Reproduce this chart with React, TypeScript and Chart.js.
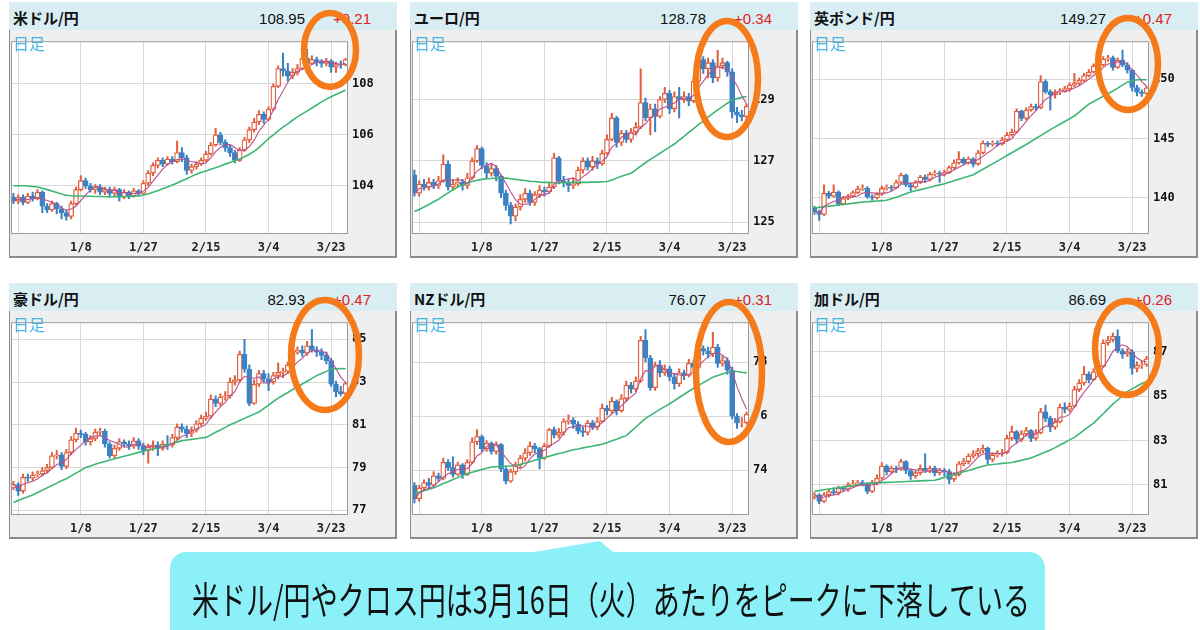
import React, { useEffect, useLayoutEffect, useRef, useState } from "react";
import { Chart, registerables } from "chart.js";

Chart.register(...registerables);

const RED = "#e2603e";
const BLUE = "#3b82c4";
const PINK = "#b9508e";
const GREEN = "#3db673";
const GRID = "#d9d9d9";
const CYAN = "#8cf0f9";
const ORANGE = "#f57a1a";

// x-axis ticks (bar index -> label)
const tickIdx = [1, 14, 27, 40, 53, 66];
const tickText = ["", "1/8", "1/27", "2/15", "3/4", "3/23"];

// ---------- 米ドル/円 ----------
const usdOpen0 = 103.55;
const usdClose = [103.40,103.55,103.35,103.60,103.50,103.75,103.20,103.05,103.30,103.10,102.95,102.80,103.30,103.85,104.20,104.00,103.85,103.95,103.75,103.85,103.70,103.85,103.55,103.75,103.60,103.80,103.70,104.10,104.50,104.80,105.00,104.85,105.05,104.95,105.30,105.10,104.60,104.75,104.85,105.00,105.25,105.60,106.00,105.70,105.50,105.30,105.00,105.40,105.80,106.20,106.50,106.80,106.60,107.00,107.90,108.60,108.50,108.30,108.45,108.60,109.00,108.80,108.95,108.85,108.80,108.90,108.65,108.75,108.74,108.95];
const usdHigh = [103.70,103.65,103.65,103.70,103.75,103.85,103.80,103.30,103.40,103.35,103.20,103.05,103.40,103.95,104.40,104.30,104.10,104.05,104.05,103.95,103.95,103.95,103.90,103.85,103.80,103.90,103.85,104.20,104.60,104.90,105.10,105.10,105.15,105.15,105.75,105.50,105.20,104.85,104.95,105.10,105.35,105.70,106.25,106.10,105.80,105.60,105.40,105.50,105.90,106.30,106.65,106.95,106.90,107.10,108.00,108.70,109.20,108.80,108.60,108.75,109.10,109.35,109.10,109.05,108.95,109.00,108.95,108.85,108.90,109.00];
const usdLow = [103.30,103.30,103.25,103.30,103.40,103.45,102.95,102.95,103.00,102.90,102.70,102.65,102.70,103.25,103.80,103.90,103.75,103.70,103.65,103.65,103.55,103.60,103.40,103.50,103.50,103.55,103.60,103.65,104.00,104.40,104.70,104.75,104.80,104.85,104.90,104.95,104.45,104.50,104.65,104.80,104.95,105.20,105.55,105.60,105.35,105.15,104.90,104.95,105.35,105.70,106.10,106.40,106.45,106.55,106.95,107.85,108.30,108.10,108.20,108.35,108.55,108.70,108.75,108.70,108.65,108.70,108.45,108.45,108.60,108.70];
const usdMa = [104.00,104.00,104.00,103.99,103.97,103.95,103.90,103.85,103.80,103.74,103.68,103.63,103.61,103.60,103.60,103.59,103.59,103.58,103.58,103.57,103.57,103.57,103.57,103.58,103.58,103.59,103.60,103.64,103.69,103.75,103.81,103.88,103.95,104.03,104.11,104.20,104.28,104.37,104.45,104.52,104.58,104.65,104.71,104.78,104.85,104.91,104.98,105.05,105.14,105.24,105.35,105.50,105.67,105.85,106.00,106.15,106.30,106.43,106.57,106.70,106.82,106.93,107.05,107.17,107.29,107.40,107.49,107.58,107.67,107.75];
const usdTicks = [104, 106, 108];

// ---------- ユーロ/円 ----------
const eurOpen0 = 126.55;
const eurClose = [125.95,126.25,126.15,126.30,126.20,126.35,126.90,126.15,126.25,126.30,126.20,126.45,127.00,127.40,126.85,126.60,126.75,126.50,125.95,125.55,125.20,125.50,125.75,125.95,125.65,125.90,126.05,126.00,126.15,127.10,126.35,126.30,126.20,126.25,126.70,127.00,126.80,127.00,126.90,127.25,127.70,128.40,127.60,127.90,127.70,127.95,128.10,128.90,128.40,128.70,128.45,129.00,129.20,128.70,129.10,129.00,129.10,128.95,129.60,130.30,130.00,130.20,129.70,130.10,130.20,129.90,128.60,128.50,128.44,128.78];
const eurHigh = [126.70,126.35,126.40,126.45,126.40,126.50,127.20,127.00,126.40,126.45,126.40,126.60,127.10,127.50,127.45,126.95,126.90,126.85,126.55,126.05,125.65,125.60,125.90,126.10,126.05,126.00,126.20,126.15,126.30,127.25,127.15,126.50,126.40,126.45,126.80,127.10,127.10,127.15,127.10,127.35,127.85,128.55,128.45,128.00,128.00,128.05,128.25,130.00,129.05,128.85,128.85,129.10,129.40,129.30,129.25,129.40,129.25,129.20,129.75,130.55,130.40,130.35,130.30,130.60,130.35,130.25,130.00,128.75,128.65,128.85];
const eurLow = [125.85,125.85,126.05,126.05,126.10,126.10,126.30,126.05,126.05,126.15,126.05,126.10,126.40,126.95,126.75,126.45,126.50,126.35,125.80,125.40,124.95,125.05,125.40,125.65,125.55,125.55,125.80,125.85,125.95,126.10,126.25,126.15,126.00,126.10,126.20,126.60,126.70,126.70,126.75,126.85,127.20,127.65,127.45,127.50,127.60,127.60,127.85,128.05,128.30,127.85,127.95,128.40,128.90,128.55,128.60,128.40,128.90,128.80,128.90,129.55,129.85,129.70,129.55,129.60,130.00,129.75,128.40,128.25,128.30,128.35];
const eurMa = [125.35,125.42,125.50,125.58,125.67,125.75,125.86,125.96,126.06,126.15,126.22,126.28,126.33,126.37,126.40,126.42,126.43,126.44,126.45,126.44,126.42,126.40,126.38,126.36,126.34,126.33,126.31,126.30,126.30,126.29,126.29,126.29,126.29,126.30,126.30,126.30,126.30,126.31,126.31,126.32,126.33,126.38,126.44,126.50,126.55,126.60,126.71,126.83,126.94,127.05,127.15,127.25,127.35,127.45,127.55,127.68,127.80,127.93,128.05,128.18,128.30,128.43,128.55,128.66,128.77,128.88,128.98,129.03,129.07,129.10];
const eurTicks = [125, 127, 129];

// ---------- 英ポンド/円 ----------
const gbpOpen0 = 139.15;
const gbpClose = [138.85,138.60,140.40,140.15,140.50,139.50,139.95,140.15,140.45,140.75,140.80,140.10,140.00,140.30,140.80,140.90,140.85,141.30,141.90,141.10,140.90,141.30,141.75,141.55,142.00,142.10,142.00,142.15,142.55,142.95,143.25,142.95,143.30,142.85,143.80,144.60,144.50,144.60,144.55,144.90,145.30,145.55,147.30,146.70,147.40,147.70,147.60,149.80,148.95,148.70,148.90,149.00,149.20,149.50,149.65,149.90,150.30,150.60,151.10,151.20,151.70,151.80,151.00,151.60,151.20,150.75,149.30,148.90,148.80,149.27];
const gbpHigh = [139.30,138.95,141.10,140.55,141.10,140.60,140.10,140.30,140.60,141.00,141.10,140.95,140.25,140.45,141.00,141.10,141.05,141.50,142.10,142.00,141.30,141.45,141.90,141.95,142.15,142.30,142.25,142.35,142.70,143.20,143.90,143.40,143.45,143.40,144.00,144.80,144.75,144.80,144.80,145.10,145.50,145.80,147.50,147.40,147.60,147.90,147.90,150.30,149.95,149.10,149.10,149.20,149.40,149.70,150.50,150.10,150.50,150.80,151.30,151.50,151.90,152.00,151.95,151.80,152.45,151.40,150.85,149.50,149.10,149.40];
const gbpLow = [138.60,138.10,138.50,139.95,140.05,139.35,139.40,139.85,140.05,140.35,140.60,139.95,139.80,139.90,140.20,140.65,140.60,140.75,141.20,140.95,140.60,140.80,141.20,141.30,141.40,141.85,141.30,141.85,142.05,142.45,142.85,142.80,142.85,142.60,142.75,143.70,144.30,144.35,144.35,144.45,144.80,145.20,145.45,146.50,146.60,147.30,147.40,147.50,148.80,147.40,148.40,148.70,148.90,149.00,149.35,149.50,149.80,150.20,150.50,150.90,151.10,151.50,150.75,150.90,151.05,150.50,149.00,148.60,148.55,148.70];
const gbpMa = [139.15,139.20,139.25,139.30,139.35,139.40,139.45,139.50,139.55,139.60,139.65,139.68,139.71,139.74,139.77,139.80,139.92,140.06,140.20,140.35,140.50,140.60,140.70,140.80,140.90,141.00,141.10,141.20,141.32,141.45,141.58,141.70,141.83,141.95,142.18,142.41,142.64,142.87,143.10,143.33,143.57,143.80,144.03,144.27,144.50,144.75,145.00,145.25,145.50,145.75,145.98,146.21,146.44,146.67,146.90,147.23,147.57,147.90,148.12,148.34,148.56,148.78,149.00,149.25,149.50,149.75,149.85,149.95,149.98,149.95];
const gbpTicks = [140, 145, 150];

// ---------- 豪ドル/円 ----------
const audOpen0 = 78.05;
const audClose = [78.20,77.90,78.55,78.50,78.65,78.70,78.85,79.00,79.55,79.60,79.05,79.70,80.30,80.60,80.55,80.20,80.35,80.65,80.70,80.10,79.55,79.90,80.20,80.10,80.00,80.25,80.00,79.80,79.95,80.05,79.90,80.10,80.05,80.40,80.90,80.80,80.60,80.75,81.05,81.30,81.40,82.20,82.00,82.30,82.35,83.00,83.10,84.30,83.60,82.00,82.90,83.40,83.15,83.00,83.30,83.45,83.50,83.80,84.40,84.50,84.35,84.70,84.50,84.40,84.25,84.00,82.90,82.55,82.46,82.93];
const audHigh = [78.35,78.30,78.70,78.70,78.80,78.85,79.00,79.15,79.70,79.80,79.70,79.85,80.45,80.85,80.75,80.65,80.50,80.80,80.85,80.80,80.20,80.05,80.35,80.30,80.25,80.40,80.35,80.15,80.10,80.25,80.20,80.25,80.50,80.55,81.05,81.05,80.95,80.90,81.20,81.45,81.60,82.40,82.35,82.45,82.55,83.20,83.30,84.45,85.00,83.80,83.10,83.55,83.55,83.40,83.45,83.90,83.65,83.95,84.55,84.65,84.70,84.90,85.45,84.65,84.55,84.40,84.10,83.05,82.80,83.00];
const audLow = [77.95,77.70,77.80,78.35,78.40,78.55,78.60,78.75,78.95,79.40,78.90,78.95,79.60,80.20,80.40,80.05,80.05,80.25,80.50,79.95,79.45,79.45,79.80,79.95,79.85,79.90,79.85,79.60,79.20,79.80,79.55,79.80,79.85,79.95,80.30,80.65,80.40,80.45,80.65,80.95,81.20,81.30,81.85,81.90,82.15,82.25,82.85,83.00,83.45,81.90,81.95,82.80,82.95,82.60,82.90,83.15,83.20,83.40,83.75,84.30,84.20,84.25,84.40,84.20,84.05,83.85,82.80,82.30,82.35,82.40];
const audMa = [77.37,77.46,77.55,77.63,77.72,77.83,77.94,78.05,78.16,78.27,78.38,78.48,78.61,78.74,78.87,79.00,79.07,79.15,79.22,79.28,79.35,79.41,79.47,79.53,79.59,79.65,79.71,79.76,79.82,79.87,79.93,80.00,80.06,80.13,80.19,80.26,80.29,80.32,80.35,80.38,80.41,80.53,80.65,80.76,80.88,81.00,81.10,81.20,81.30,81.40,81.50,81.60,81.76,81.92,82.09,82.25,82.38,82.51,82.65,82.78,82.91,83.04,83.17,83.30,83.40,83.50,83.60,83.62,83.63,83.62];
const audTicks = [77, 79, 81, 83, 85];

// ---------- NZドル/円 ----------
const nzdOpen0 = 73.45;
const nzdClose = [72.95,73.35,73.55,73.45,73.80,73.70,74.30,74.10,73.85,74.20,73.85,74.30,75.05,75.25,74.80,75.00,74.70,74.95,74.05,73.60,73.95,74.20,74.45,74.65,74.90,74.80,74.45,74.90,75.50,75.30,75.40,75.80,75.85,75.70,75.45,75.40,75.75,75.60,75.80,76.30,76.20,76.55,76.20,76.65,77.15,77.00,77.30,78.80,78.15,77.05,77.90,77.60,77.75,77.45,77.20,77.60,77.50,77.95,77.80,78.50,78.40,78.30,78.55,77.95,78.05,77.70,76.00,75.75,75.76,76.07];
const nzdHigh = [73.55,73.45,73.65,73.70,73.95,73.90,74.45,74.40,74.50,74.30,74.25,74.40,75.20,75.50,75.30,75.10,75.05,75.05,75.00,74.10,74.05,74.30,74.55,74.80,75.05,75.00,74.85,75.00,75.55,75.60,75.55,75.90,76.05,75.95,75.80,75.60,75.85,75.85,75.95,76.45,76.40,76.70,76.60,76.80,77.30,77.25,77.45,78.95,79.20,78.25,78.00,78.05,77.90,77.85,77.55,77.75,77.70,78.10,78.05,78.65,78.60,78.55,79.10,78.65,78.20,78.15,77.80,76.10,75.95,76.15];
const nzdLow = [72.80,72.85,73.25,73.35,73.40,73.60,73.65,74.00,73.75,73.80,73.70,73.80,74.25,74.95,74.70,74.70,74.60,74.60,73.95,73.50,73.55,73.85,74.10,74.35,74.55,74.65,74.05,74.40,74.85,75.20,75.20,75.30,75.70,75.55,75.35,75.25,75.30,75.50,75.50,75.75,76.05,76.10,76.05,76.15,76.55,76.85,76.90,77.25,78.00,76.95,76.95,77.45,77.50,77.30,77.00,77.10,77.35,77.45,77.65,77.75,78.25,78.15,78.20,77.80,77.85,77.55,75.90,75.55,75.60,75.70];
const nzdMa = [73.13,73.19,73.25,73.30,73.36,73.43,73.51,73.58,73.66,73.73,73.81,73.88,73.93,73.98,74.03,74.08,74.12,74.13,74.14,74.15,74.16,74.17,74.22,74.27,74.32,74.37,74.42,74.47,74.52,74.57,74.62,74.66,74.71,74.76,74.79,74.83,74.86,74.89,74.93,74.96,75.02,75.09,75.15,75.22,75.28,75.44,75.60,75.76,75.92,76.03,76.14,76.25,76.35,76.46,76.57,76.69,76.80,76.92,77.03,77.13,77.24,77.34,77.44,77.50,77.56,77.61,77.67,77.65,77.62,77.60];
const nzdTicks = [74, 76, 78];

// ---------- 加ドル/円 ----------
const cadOpen0 = 80.45;
const cadClose = [80.55,80.25,80.55,80.70,80.65,80.85,80.80,81.00,81.05,81.10,81.05,80.70,81.10,81.30,81.85,81.60,81.75,81.70,82.05,81.65,81.40,81.55,81.75,81.65,81.75,81.55,81.65,81.60,81.25,81.45,81.95,82.05,82.30,82.40,82.55,82.65,82.15,82.35,82.40,82.45,83.10,83.40,83.05,83.30,83.45,83.10,83.35,84.30,84.00,83.60,83.85,84.50,84.40,84.55,85.30,85.60,86.00,85.75,86.10,86.35,87.40,87.55,87.70,87.05,86.90,87.00,86.25,86.40,86.43,86.69];
const cadHigh = [80.65,80.60,80.65,80.80,80.85,80.95,80.95,81.10,81.20,81.20,81.20,81.10,81.20,81.45,82.00,81.90,81.85,81.85,82.15,82.10,81.70,81.65,81.90,82.40,81.85,81.85,81.75,81.75,81.70,81.55,82.05,82.20,82.40,82.55,82.65,82.80,82.70,82.45,82.55,82.60,83.25,83.65,83.45,83.45,83.60,83.50,83.50,84.45,84.60,84.10,84.00,84.65,84.70,84.70,85.45,85.75,86.35,86.10,86.25,86.50,87.55,87.70,87.85,88.00,87.15,87.15,87.10,86.55,86.60,86.80];
const cadLow = [80.35,80.15,80.20,80.45,80.55,80.55,80.70,80.70,80.90,80.95,80.95,80.60,80.65,81.00,81.25,81.45,81.50,81.55,81.65,81.50,81.25,81.30,81.45,81.55,81.55,81.40,81.45,81.40,81.05,81.15,81.40,81.85,81.95,82.20,82.30,82.45,81.95,82.05,82.25,82.30,82.40,83.00,82.90,82.95,83.20,82.95,83.00,83.30,83.85,83.40,83.50,83.80,84.25,84.30,84.50,85.20,85.50,85.60,85.70,86.00,86.30,87.30,87.45,86.95,86.70,86.80,86.00,86.10,86.25,86.35];
const cadMa = [80.71,80.74,80.78,80.81,80.84,80.87,80.90,80.93,80.96,81.00,81.03,81.07,81.08,81.09,81.10,81.11,81.12,81.13,81.14,81.15,81.16,81.17,81.18,81.19,81.20,81.21,81.27,81.34,81.40,81.46,81.52,81.59,81.65,81.71,81.78,81.84,81.90,81.92,81.94,81.97,81.99,82.01,82.06,82.11,82.16,82.21,82.30,82.39,82.48,82.57,82.68,82.80,82.91,83.03,83.14,83.30,83.47,83.63,83.79,84.00,84.21,84.43,84.64,84.83,85.02,85.21,85.33,85.45,85.57,85.65];
const cadTicks = [81, 83, 85, 87];

const CAPTION = "米ドル/円やクロス円は3月16日（火）あたりをピークに下落している";

type PanelDef = {
  left: number; top: number; title: string; price: string; change: string;
  open0: number; close: number[]; high: number[]; low: number[]; ma: number[];
  yMin: number; yMax: number; yTicks: number[];
};

const panels: PanelDef[] = [
  { left: 9, top: 2, title: "米ドル/円", price: "108.95", change: "+0.21", open0: usdOpen0, close: usdClose, high: usdHigh, low: usdLow, ma: usdMa, yMin: 102.11, yMax: 109.67, yTicks: usdTicks },
  { left: 410, top: 2, title: "ユーロ/円", price: "128.78", change: "+0.34", open0: eurOpen0, close: eurClose, high: eurHigh, low: eurLow, ma: eurMa, yMin: 124.62, yMax: 130.9, yTicks: eurTicks },
  { left: 810, top: 2, title: "英ポンド/円", price: "149.27", change: "+0.47", open0: gbpOpen0, close: gbpClose, high: gbpHigh, low: gbpLow, ma: gbpMa, yMin: 136.96, yMax: 153.2, yTicks: gbpTicks },
  { left: 9, top: 283, title: "豪ドル/円", price: "82.93", change: "+0.47", open0: audOpen0, close: audClose, high: audHigh, low: audLow, ma: audMa, yMin: 76.78, yMax: 85.8, yTicks: audTicks },
  { left: 410, top: 283, title: "NZドル/円", price: "76.07", change: "+0.31", open0: nzdOpen0, close: nzdClose, high: nzdHigh, low: nzdLow, ma: nzdMa, yMin: 72.35, yMax: 79.47, yTicks: nzdTicks },
  { left: 810, top: 283, title: "加ドル/円", price: "86.69", change: "+0.26", open0: cadOpen0, close: cadClose, high: cadHigh, low: cadLow, ma: cadMa, yMin: 79.64, yMax: 88.34, yTicks: cadTicks },
];

// annotation ellipses [cx, cy, rx, ry]
const ellipses = [
  [330, 50, 26, 37],
  [727, 79, 31, 58],
  [1128, 64, 30, 46],
  [325, 355, 34, 55],
  [729, 372, 33, 70],
  [1127, 348, 32, 47],
];

function sma(values: number[], n: number): number[] {
  return values.map((_, i) => {
    const s = Math.max(0, i - n + 1);
    const w = values.slice(s, i + 1);
    return w.reduce((a, b) => a + b, 0) / w.length;
  });
}

const framePlugin = {
  id: "frame",
  beforeDraw(chart: any) {
    const { ctx, chartArea: a } = chart;
    ctx.save();
    ctx.fillStyle = "#ffffff";
    ctx.fillRect(a.left, a.top, a.right - a.left, a.bottom - a.top);
    ctx.restore();
  },
  afterDraw(chart: any) {
    const { ctx, chartArea: a } = chart;
    ctx.save();
    ctx.strokeStyle = "#9a9a9a";
    ctx.lineWidth = 1;
    ctx.strokeRect(a.left + 0.5, a.top + 0.5, a.right - a.left - 1, a.bottom - a.top - 1);
    ctx.restore();
  },
};

const CW = 385;
const CH = 226;

function Panel({ d }: { d: PanelDef }) {
  const ref = useRef<HTMLCanvasElement>(null);
  useEffect(() => {
    const canvas = ref.current;
    if (!canvas) return;
    const opens = [d.open0, ...d.close.slice(0, -1)];
    const up = d.close.map((c, i) => c >= opens[i]);
    const chart = new Chart(canvas, {
      type: "bar",
      data: {
        labels: d.close.map((_, i) => String(i)),
        datasets: [
          { type: "line", data: sma(d.close, 5), borderColor: PINK, borderWidth: 1.1, pointRadius: 0, tension: 0, order: 1 } as any,
          { type: "line", data: d.ma, borderColor: GREEN, borderWidth: 1.6, pointRadius: 0, tension: 0, order: 2 } as any,
          {
            type: "bar",
            data: opens.map((o, i) => [o, d.close[i]]),
            backgroundColor: up.map((u) => (u ? "#ffffff" : BLUE)),
            borderColor: up.map((u) => (u ? RED : BLUE)),
            borderWidth: 1.3,
            borderSkipped: false,
            barThickness: 5,
            grouped: false,
            order: 3,
          } as any,
          {
            type: "bar",
            data: d.low.map((l, i) => [l, d.high[i]]),
            backgroundColor: up.map((u) => (u ? RED : BLUE)),
            borderWidth: 0,
            barThickness: 1.4,
            grouped: false,
            order: 4,
          } as any,
        ],
      },
      options: {
        animation: false,
        responsive: false,
        maintainAspectRatio: false,
        events: [],
        layout: { padding: { left: 1, top: 1, right: 0, bottom: 0 } },
        plugins: { legend: { display: false }, tooltip: { enabled: false } },
        scales: {
          x: {
            type: "category",
            offset: true,
            grid: { color: GRID, lineWidth: 1, offset: false, drawTicks: false },
            border: { display: false },
            ticks: {
              autoSkip: false,
              maxRotation: 0,
              minRotation: 0,
              padding: 7,
              color: "#222",
              font: { family: "'DejaVu Sans Mono'", size: 12, weight: "bold" },
              callback: (v: any) => {
                const k = tickIdx.indexOf(Number(v));
                return k >= 0 ? tickText[k] : "";
              },
            },
            afterBuildTicks: (s: any) => {
              s.ticks = tickIdx.map((v) => ({ value: v }));
            },
            afterFit: (s: any) => {
              s.height = 22;
            },
          },
          y: {
            type: "linear",
            position: "right",
            min: d.yMin,
            max: d.yMax,
            grid: { color: GRID, lineWidth: 1, drawTicks: false },
            border: { display: false },
            ticks: {
              padding: 4,
              color: "#111",
              font: { family: "'DejaVu Sans Mono'", size: 12, weight: "bold" },
            },
            afterBuildTicks: (s: any) => {
              s.ticks = d.yTicks.map((v) => ({ value: v }));
            },
            afterFit: (s: any) => {
              s.width = 47;
            },
          },
        },
      } as any,
      plugins: [framePlugin as any],
    });
    return () => chart.destroy();
  }, [d]);

  return (
    <div style={{ position: "absolute", left: d.left, top: d.top, width: 388, height: 256 }}>
      <div style={{ position: "absolute", left: 0, top: 0, width: 388, height: 28, background: "#d9eef3" }} />
      <div
        style={{
          position: "absolute", left: 4, top: 8, fontSize: 15, lineHeight: "15px", fontWeight: 700,
          fontFamily: "'Noto Sans CJK JP'", color: "#111", whiteSpace: "nowrap",
        }}
      >
        {d.title}
      </div>
      <div
        style={{
          position: "absolute", right: 92, top: 9, fontSize: 15, lineHeight: "15px",
          fontFamily: "'Liberation Sans'", color: "#111", whiteSpace: "nowrap",
        }}
      >
        {d.price}
      </div>
      <div
        style={{
          position: "absolute", right: 26, top: 9, fontSize: 15, lineHeight: "15px",
          fontFamily: "'Liberation Sans'", color: "#e02020", whiteSpace: "nowrap",
        }}
      >
        {d.change}
      </div>
      <div
        style={{
          position: "absolute", left: 0, top: 28, width: CW, height: CH, background: "#efefef",
          borderLeft: "1px solid #8c8c8c", borderRight: "2px solid #8c8c8c", borderBottom: "2px solid #8c8c8c",
        }}
      >
        <canvas ref={ref} width={CW} height={CH} style={{ display: "block", width: CW, height: CH }} />
      </div>
      <div
        style={{
          position: "absolute", left: 4, top: 33, fontSize: 16, lineHeight: "16px",
          fontFamily: "'Noto Sans CJK JP'", color: "#45b5e6", whiteSpace: "nowrap",
        }}
      >
        日足
      </div>
    </div>
  );
}

function Caption() {
  const ref = useRef<HTMLSpanElement>(null);
  const [sx, setSx] = useState(1);
  useLayoutEffect(() => {
    if (ref.current) {
      const w = ref.current.offsetWidth;
      if (w > 0) setSx(838 / w);
    }
  }, []);
  return (
    <span
      ref={ref}
      style={{
        position: "absolute", left: 192, top: 579, fontSize: 38, lineHeight: "38px",
        fontFamily: "'Noto Sans CJK JP'", color: "#111", whiteSpace: "nowrap",
        transform: `scaleX(${sx})`, transformOrigin: "0 0", display: "inline-block",
      }}
    >
      {CAPTION}
    </span>
  );
}

export default function App() {
  return (
    <div style={{ position: "absolute", left: 0, top: 0, width: 1200, height: 630, overflow: "hidden", background: "#ffffff" }}>
      {panels.map((d, i) => (
        <Panel key={i} d={d} />
      ))}
      <div style={{ position: "absolute", left: 170, top: 552, width: 875, height: 110, background: CYAN, borderRadius: 16 }} />
      <svg width={1200} height={630} style={{ position: "absolute", left: 0, top: 0, pointerEvents: "none" }}>
        <polygon points="528,553 600,541 614,553" fill={CYAN} />
      </svg>
      <Caption />
      <svg width={1200} height={630} style={{ position: "absolute", left: 0, top: 0, pointerEvents: "none" }}>
        {ellipses.map((e, i) => (
          <ellipse key={i} cx={e[0]} cy={e[1]} rx={e[2]} ry={e[3]} fill="none" stroke={ORANGE} strokeWidth={6.5} />
        ))}
      </svg>
    </div>
  );
}
